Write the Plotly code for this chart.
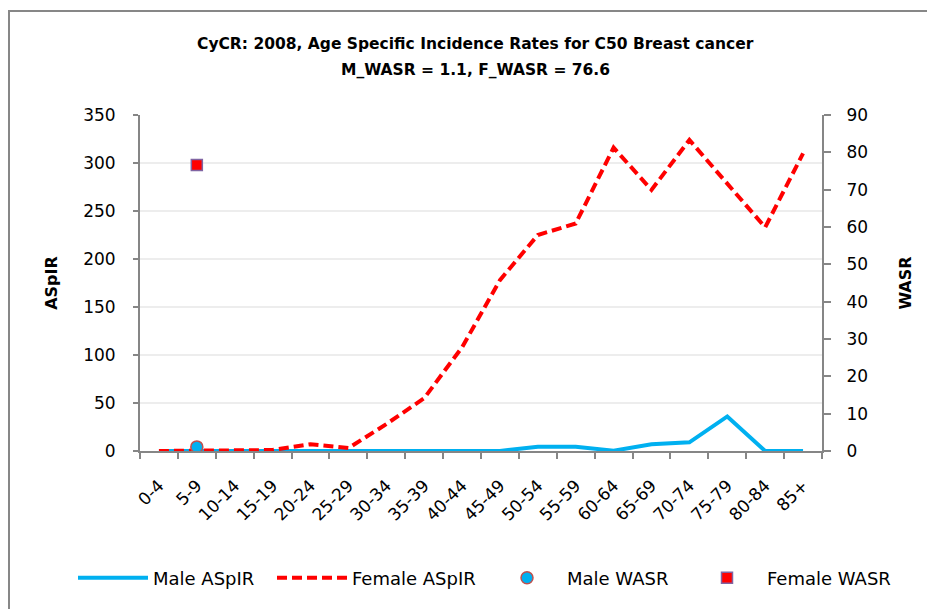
import plotly.graph_objects as go

age_groups = ["0-4", "5-9", "10-14", "15-19", "20-24", "25-29", "30-34", "35-39",
              "40-44", "45-49", "50-54", "55-59", "60-64", "65-69", "70-74", "75-79",
              "80-84", "85+"]
male_aspir = [0, 0, 0, 0, 0, 0, 0, 0, 0, 0, 4.5, 4.5, 0.3, 7, 9, 36, 0, 0]
female_aspir = [0, 0, 0, 1, 7, 3, 28, 55, 108, 178, 225, 237, 316, 272, 324, 279, 233, 310]
wasr_category = ["5-9"]
male_wasr = [1.1]
female_wasr = [76.6]

title_line1 = "<b>CyCR: 2008, Age Specific Incidence Rates for C50 Breast cancer</b>"
title_line2 = "<b>M_WASR = 1.1, F_WASR = 76.6</b>"

FONT = "DejaVu Sans"
AXIS_GREY = "#868686"
OFF = 8  # page body margin

W, H = 935, 609
# plot area in page coordinates
PL, PR, PT, PB = 140, 822, 115, 451
L = PL - OFF
T = PT - OFF
R = W - (PR - OFF)
B = H - (PB - OFF)
pw = W - L - R
ph = H - T - B

def px_x(p):
    return (p - OFF - L) / pw

def px_y(p):
    return (H - B - (p - OFF)) / ph

fig = go.Figure()
fig.add_trace(go.Scatter(x=age_groups, y=male_aspir, mode="lines", name="Male ASpIR",
                         line=dict(color="#00B0F0", width=4), legend="legend"))
fig.add_trace(go.Scatter(x=age_groups, y=female_aspir, mode="lines", name="Female ASpIR",
                         line=dict(color="#FF0000", width=4, dash="10px,5px"), legend="legend2"))
fig.add_trace(go.Scatter(x=wasr_category, y=male_wasr, mode="markers", name="Male WASR", yaxis="y2",
                         marker=dict(symbol="circle", size=12, color="#00B0F0",
                                     line=dict(color="#C0504D", width=1.5)), legend="legend3"))
fig.add_trace(go.Scatter(x=wasr_category, y=female_wasr, mode="markers", name="Female WASR", yaxis="y2",
                         marker=dict(symbol="square", size=11, color="#FF0000",
                                     line=dict(color="#8064A2", width=1.5)), legend="legend4"))

leg_common = dict(orientation="h", yanchor="middle", xanchor="left", y=px_y(578),
                  font=dict(family=FONT, size=18, color="#000000"), itemwidth=70,
                  bgcolor="rgba(0,0,0,0)", borderwidth=0)

fig.update_layout(
    width=W, height=H,
    margin=dict(l=L, r=R, t=T, b=B, autoexpand=False),
    paper_bgcolor="white", plot_bgcolor="white",
    showlegend=True,
    font=dict(family=FONT, size=16, color="#000000"),
    xaxis=dict(type="category", categoryorder="array", categoryarray=age_groups,
               tickson="boundaries", ticks="outside", ticklen=6, tickwidth=2, tickcolor=AXIS_GREY,
               showline=True, linecolor=AXIS_GREY, linewidth=2, showgrid=False,
               tickangle=-45, ticklabelstandoff=16, tickfont=dict(family=FONT, size=17),
               range=[-0.5, 17.5], zeroline=False),
    yaxis=dict(range=[0, 350], dtick=50, ticks="outside", ticklen=5, tickwidth=2, tickcolor=AXIS_GREY,
               showline=True, linecolor=AXIS_GREY, linewidth=2, showgrid=True,
               gridcolor="#EDEDED", gridwidth=2, zeroline=False, ticklabelstandoff=14,
               title=dict(text="<b>ASpIR</b>", font=dict(family=FONT, size=16), standoff=22),
               tickfont=dict(family=FONT, size=17)),
    yaxis2=dict(range=[0, 90], dtick=10, overlaying="y", side="right", ticks="outside", ticklen=7,
                tickwidth=2, tickcolor=AXIS_GREY, showline=True, linecolor=AXIS_GREY, linewidth=2,
                showgrid=False, zeroline=False, ticklabelstandoff=12,
                title=dict(text="<b>WASR</b>", font=dict(family=FONT, size=16), standoff=33),
                tickfont=dict(family=FONT, size=17)),
    legend=dict(leg_common, x=px_x(73)),
    legend2=dict(leg_common, x=px_x(272)),
    legend3=dict(leg_common, x=px_x(487)),
    legend4=dict(leg_common, x=px_x(687)),
    annotations=[
        dict(text=title_line1, xref="paper", yref="paper", x=px_x(475), y=px_y(44),
             xanchor="center", yanchor="middle", showarrow=False,
             font=dict(family=FONT, size=15.5, color="#000000")),
        dict(text=title_line2, xref="paper", yref="paper", x=px_x(475), y=px_y(70),
             xanchor="center", yanchor="middle", showarrow=False,
             font=dict(family=FONT, size=15.5, color="#000000")),
    ],
    shapes=[dict(type="rect", xref="paper", yref="paper",
                 x0=px_x(9), x1=px_x(960), y0=px_y(640), y1=px_y(11),
                 line=dict(color="#878787", width=2), fillcolor="rgba(0,0,0,0)", layer="below")],
)

fig.write_html("out.html")
